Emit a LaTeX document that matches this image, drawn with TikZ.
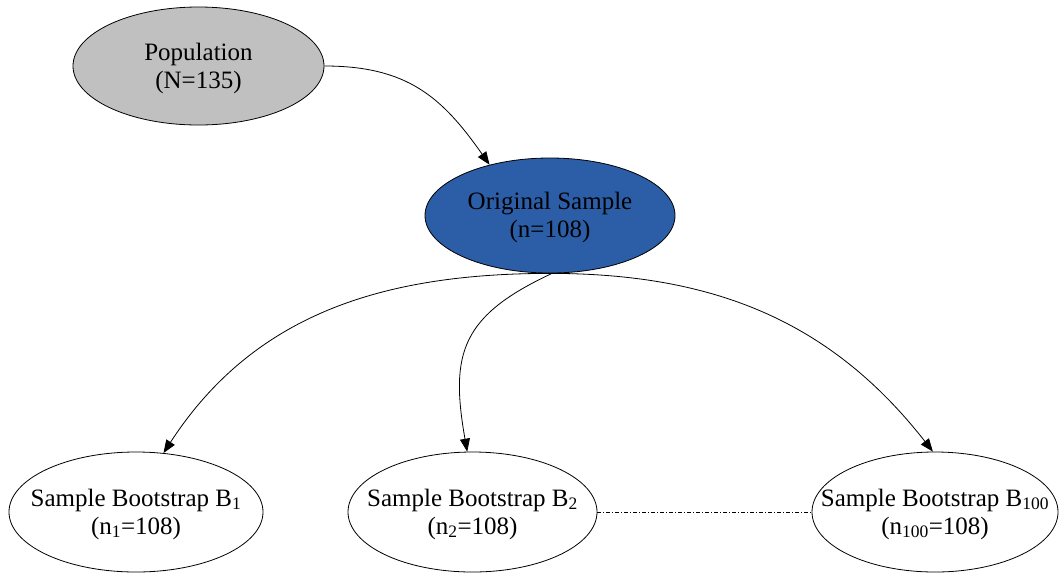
\documentclass[tikz,border=0pt]{standalone}
\usepackage{fontspec}
\setmainfont{Liberation Serif}
\usetikzlibrary{arrows.meta,shapes.geometric}
\definecolor{popgray}{RGB}{192,192,192}
\definecolor{origblue}{RGB}{43,94,166}
\begin{document}
\begin{tikzpicture}[x=1pt,y=-1pt,
  oval/.style={ellipse,draw=black,line width=0.8pt,inner sep=0pt},
  ovaltext/.style={align=center,inner sep=0pt,yshift=-2pt,font=\fontsize{25}{28}\selectfont},
  conn/.style={line width=0.8pt,-{Triangle[length=13pt,width=10pt]}},
  dashdotline/.style={line width=0.7pt,dash pattern=on 4pt off 2pt on 1pt off 2pt}]
\useasboundingbox (0,0) rectangle (1059,574);
\node[oval,fill=popgray,minimum width=251pt,minimum height=118pt,
  label={[ovaltext]center:Population\\(N=135)}] (pop) at (198.5,66) {};
\node[oval,fill=origblue,minimum width=250pt,minimum height=115pt,
  label={[ovaltext]center:Original Sample\\(n=108)}] (orig) at (550,215.5) {};
\node[oval,fill=white,minimum width=254pt,minimum height=120pt,
  label={[ovaltext]center:Sample Bootstrap B\textsubscript{1}\\(n\textsubscript{1}=108)}] (b1) at (136,512) {};
\node[oval,fill=white,minimum width=249pt,minimum height=120pt,
  label={[ovaltext]center:Sample Bootstrap B\textsubscript{2}\\(n\textsubscript{2}=108)}] (b2) at (472.5,512) {};
\node[oval,fill=white,minimum width=246pt,minimum height=120pt,
  label={[ovaltext]center:Sample Bootstrap B\textsubscript{100}\\(n\textsubscript{100}=108)}] (b100) at (935,512) {};
\draw[conn] (pop.east) to[out=0,in=125,looseness=1.1] (orig.140);
\draw[conn] (orig.south) to[out=180,in=57] (b1.65);
\draw[conn] (orig.-88) to[out=205,in=100,looseness=1.3] (b2.95);
\draw[conn] (orig.south) to[out=0,in=128] (b100.92);
\draw[dashdotline] (b2.east) -- (b100.west);
\end{tikzpicture}
\end{document}
